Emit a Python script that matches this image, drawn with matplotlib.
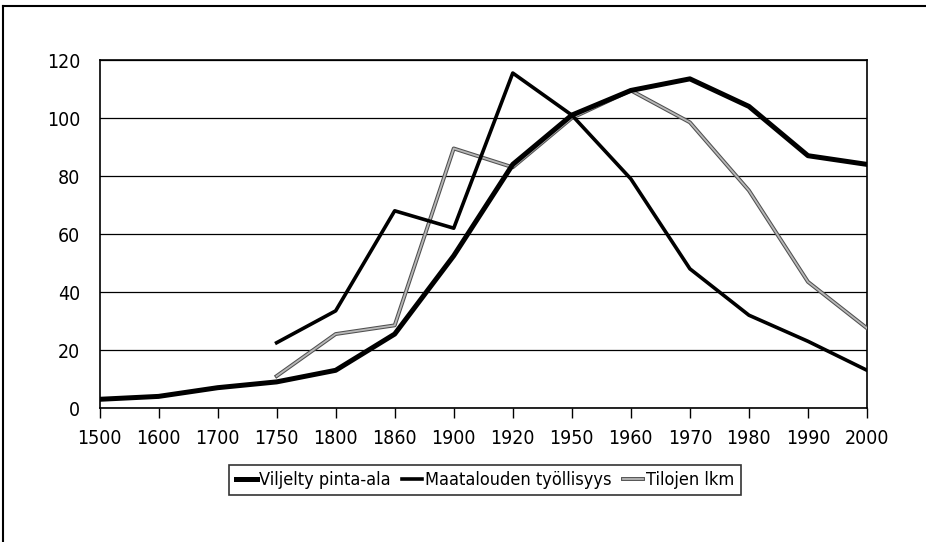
import matplotlib
matplotlib.use("Agg")
import matplotlib.pyplot as plt
import matplotlib.patheffects as pe
from matplotlib import font_manager as fm
from matplotlib.lines import Line2D
import numpy as np

years = ["1500", "1600", "1700", "1750", "1800", "1860", "1900", "1920",
         "1950", "1960", "1970", "1980", "1990", "2000"]
viljelty = [3, 4, 7, 9, 13, 25.5, 52.5, 84, 101, 109.5, 113.5, 104, 87, 84]
tyollisyys = [None, None, None, 22.5, 33.5, 68, 62, 115.5, 101, 79, 48, 32, 23, 13]
tilat = [None, None, None, 11, 25.5, 28.5, 89.5, 83, 100, 109.5, 98.5, 75, 43.5, 27.5]
yticks = [0, 20, 40, 60, 80, 100, 120]

# pick a condensed humanist sans if one is installed
cond = None
for pref in ['Liberation Sans Narrow', 'Noto Sans', 'Open Sans', 'DejaVu Sans', 'Roboto']:
    for f in fm.fontManager.ttflist:
        st = str(f.stretch).lower()
        if f.name == pref and f.style == 'normal' and ('condensed' in st or 'narrow' in f.name.lower()
                                                       or st in ('75', '87', '62')):
            w = f.weight if isinstance(f.weight, int) else 400
            if 350 <= w <= 550:
                cond = f
                break
    if cond:
        break

if cond is not None:
    FP = dict(fname=cond.fname)
    fsize, lsize = 14, 13
else:
    FP = dict(family='Lato')
    fsize, lsize = 13, 13
fprop = fm.FontProperties(size=fsize, **FP)
lprop = fm.FontProperties(size=lsize, **FP)

fig = plt.figure(figsize=(9.26, 5.42), dpi=100)
ax = fig.add_axes([99.5/926, 1-408/542, (867-99.5)/926, (408-60)/542])

x = np.arange(len(years))

def arr(v):
    return np.array([np.nan if a is None else a for a in v], dtype=float)

ax.plot(x, arr(tilat), color='#b8b8b8', lw=1.3, solid_joinstyle='round',
        path_effects=[pe.Stroke(linewidth=2.8, foreground='#505050'), pe.Normal()],
        label='Tilojen lkm', zorder=3)
ax.plot(x, arr(tyollisyys), color='black', lw=2.6, label='Maatalouden työllisyys', zorder=4)
ax.plot(x, arr(viljelty), color='black', lw=3.6, label='Viljelty pinta-ala', zorder=5)

ax.set_xlim(0, len(years)-1)
ax.set_ylim(0, 120)
ax.set_xticks(x)
ax.set_xticklabels(years, fontproperties=fprop)
ax.set_yticks(yticks)
ax.set_yticklabels([str(v) for v in yticks], fontproperties=fprop)
ax.tick_params(axis='x', direction='out', length=7, width=1, pad=8)
ax.tick_params(axis='y', length=0, pad=14)
ax.grid(axis='y', color='black', lw=0.9)
ax.set_axisbelow(True)
for s in ax.spines.values():
    s.set_color('black')
    s.set_linewidth(1.2)

handles, labels = ax.get_legend_handles_labels()
order = [2, 1, 0]
leg = fig.legend([handles[i] for i in order], [labels[i] for i in order],
                 loc='center', bbox_to_anchor=(485/926, 1-480/542), ncol=3,
                 frameon=True, fancybox=False, edgecolor='black', prop=lprop,
                 handlelength=1.15, handletextpad=0.15, columnspacing=0.6,
                 borderpad=0.35, borderaxespad=0)
leg.get_frame().set_linewidth(1.2)

fig.add_artist(Line2D([3/926, 3/926], [0, 1-6/542], transform=fig.transFigure, color='black', lw=1.5))
fig.add_artist(Line2D([3/926, 1], [1-6/542, 1-6/542], transform=fig.transFigure, color='black', lw=1.5))

fig.savefig("out.png", dpi=100)
